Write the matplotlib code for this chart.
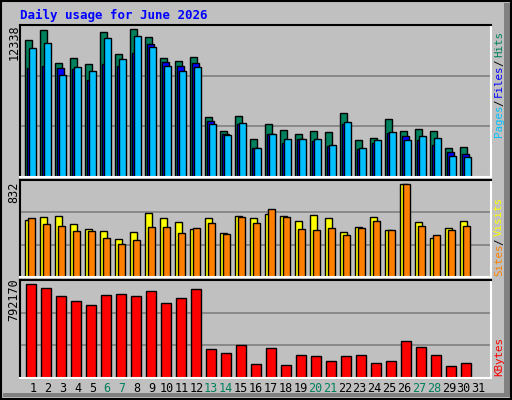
import matplotlib
matplotlib.use("Agg")
import matplotlib.pyplot as plt
from matplotlib.patches import Rectangle
import numpy as np

days = list(range(1, 32))
weekend_days = [6, 7, 13, 14, 20, 21, 27, 28]
hits = [11389, 12249, 9478, 9895, 9389, 12085, 10237, 12338, 11642, 9895, 9642, 9984, 5024, 3847, 5100,
        3164, 4429, 3923, 3594, 3847, 3758, 5353, 3088, 3252, 4846, 3847, 4011, 3847, 2404, 2493, 0]
files = [9060, 9250, 9060, 8997, 8073, 9415, 9250, 10338, 11072, 9554, 9250, 9478, 4682, 3594, 4429,
         2442, 3594, 2835, 3164, 2974, 2581, 4378, 2328, 2835, 3670, 3417, 3088, 2695, 2075, 1911, 0]
pages = [10731, 11161, 8466, 9136, 8807, 11578, 9807, 11743, 10819, 9225, 8807, 9136, 4429, 3505, 4517,
         2404, 3594, 3164, 3164, 3164, 2657, 4593, 2404, 3088, 3758, 3088, 3417, 3252, 1734, 1658, 0]
visits = [507, 535, 544, 471, 426, 408, 336, 399, 571, 526, 490, 426, 526, 390, 544, 526, 562, 544, 499,
          553, 526, 399, 444, 535, 417, 832, 490, 345, 435, 499, 0]
sites = [526, 471, 453, 408, 408, 345, 291, 327, 444, 444, 390, 435, 480, 381, 535, 480, 607, 535, 426,
         417, 435, 372, 435, 499, 417, 832, 453, 372, 417, 453, 0]
kbytes = [792170, 757000, 688000, 653000, 619000, 697000, 705000, 688000, 731000, 636000, 671000, 749000,
          246000, 211000, 280000, 116000, 254000, 107000, 194000, 185000, 142000, 185000, 194000, 124000,
          142000, 315000, 263000, 194000, 98000, 124000, 0]
max_hits_label = "12338"
max_visits_label = "832"
max_kb_label = "792170"

W, H = 512, 400
fig = plt.figure(figsize=(5.12, 4.0), dpi=100)
fig.patch.set_facecolor("#c0c0c0")
MONO = "DejaVu Sans Mono"

def fx(x): return x / W
def fy(y): return 1 - y / H

fig.add_artist(Rectangle((fx(504), fy(397)), fx(6), (397 - 3) / H, transform=fig.transFigure,
                         facecolor="#808080", edgecolor="none"))
fig.add_artist(Rectangle((fx(3), fy(397)), fx(507), 4 / H, transform=fig.transFigure,
                         facecolor="#808080", edgecolor="none"))
fig.add_artist(Rectangle((fx(1), fy(399)), fx(510), 398 / H, transform=fig.transFigure,
                         facecolor="none", edgecolor="black", lw=1.5))

fig.text(fx(20), fy(15), "Daily usage for June 2026", color="#0000ff", fontsize=9,
         fontweight="bold", family=MONO, va="center", ha="left")

L, R = 20, 491
def mkax(top, bot, ymax):
    ax = fig.add_axes([fx(L), fy(bot), (R - L) / W, (bot - top) / H])
    ax.set_facecolor("#c0c0c0")
    ax.set_xlim(L, R)
    ax.set_ylim(0, ymax)
    ax.set_xticks([]); ax.set_yticks([])
    for s in ax.spines.values():
        s.set_color("white"); s.set_linewidth(1.5)
    ax.spines["left"].set_color("black"); ax.spines["top"].set_color("black")
    for k in (1, 2):
        ax.axhline(ymax * k / 3, color="#808080", lw=1.2, zorder=0)
    return ax

d = np.array(days)
base = 25 + 15 * (d - 1)
kw = dict(align="edge", edgecolor="black", linewidth=1, zorder=2)
def draw(ax, off, width, vals, color):
    v = np.array(vals)
    m = v > 0
    ax.bar(base[m] + off, v[m], width=width, color=color, **kw)

ax1 = mkax(25, 177, 12338 / 0.975)
draw(ax1, 0, 7, hits, "#00805c")
draw(ax1, 2, 7, files, "#0000ff")
draw(ax1, 4, 7, pages, "#00c0ff")

ax2 = mkax(180, 277, 868)
draw(ax2, 0, 7, visits, "#ffff00")
draw(ax2, 3, 7, sites, "#ff8000")

ax3 = mkax(280, 378, 792170 / 0.958)
draw(ax3, 1, 10, kbytes, "#ff0000")

fs = 8.5
fig.text(fx(14), fy(42), max_hits_label, rotation=90, fontsize=fs, family=MONO, ha="center", va="center")
fig.text(fx(14), fy(192), max_visits_label, rotation=90, fontsize=fs, family=MONO, ha="center", va="center")
fig.text(fx(14), fy(300), max_kb_label, rotation=90, fontsize=fs, family=MONO, ha="center", va="center")

CH = 5.7
def stack(parts, ybottom):
    y = ybottom
    for txt, col in parts:
        if txt == "/":
            y -= CH * 0.5
        fig.text(fx(499), fy(y), txt, rotation=90, fontsize=7.8, family=MONO, color=col,
                 ha="center", va="bottom")
        y -= len(txt) * CH
        if txt == "/":
            y -= CH * 0.5
stack([("Pages", "#00c0ff"), ("/", "#000000"), ("Files", "#0000ff"), ("/", "#000000"),
       ("Hits", "#00805c")], 137)
stack([("Sites", "#ff8000"), ("/", "#000000"), ("Visits", "#ffff00")], 276)
stack([("KBytes", "#ff0000")], 376)

for i, dd in enumerate(days):
    col = "#00805c" if dd in weekend_days else "black"
    fig.text(fx(33 + 14.85 * i), fy(389), str(dd), fontsize=fs, family=MONO, color=col,
             ha="center", va="center")

fig.savefig("out.png", dpi=100, facecolor=fig.get_facecolor())
